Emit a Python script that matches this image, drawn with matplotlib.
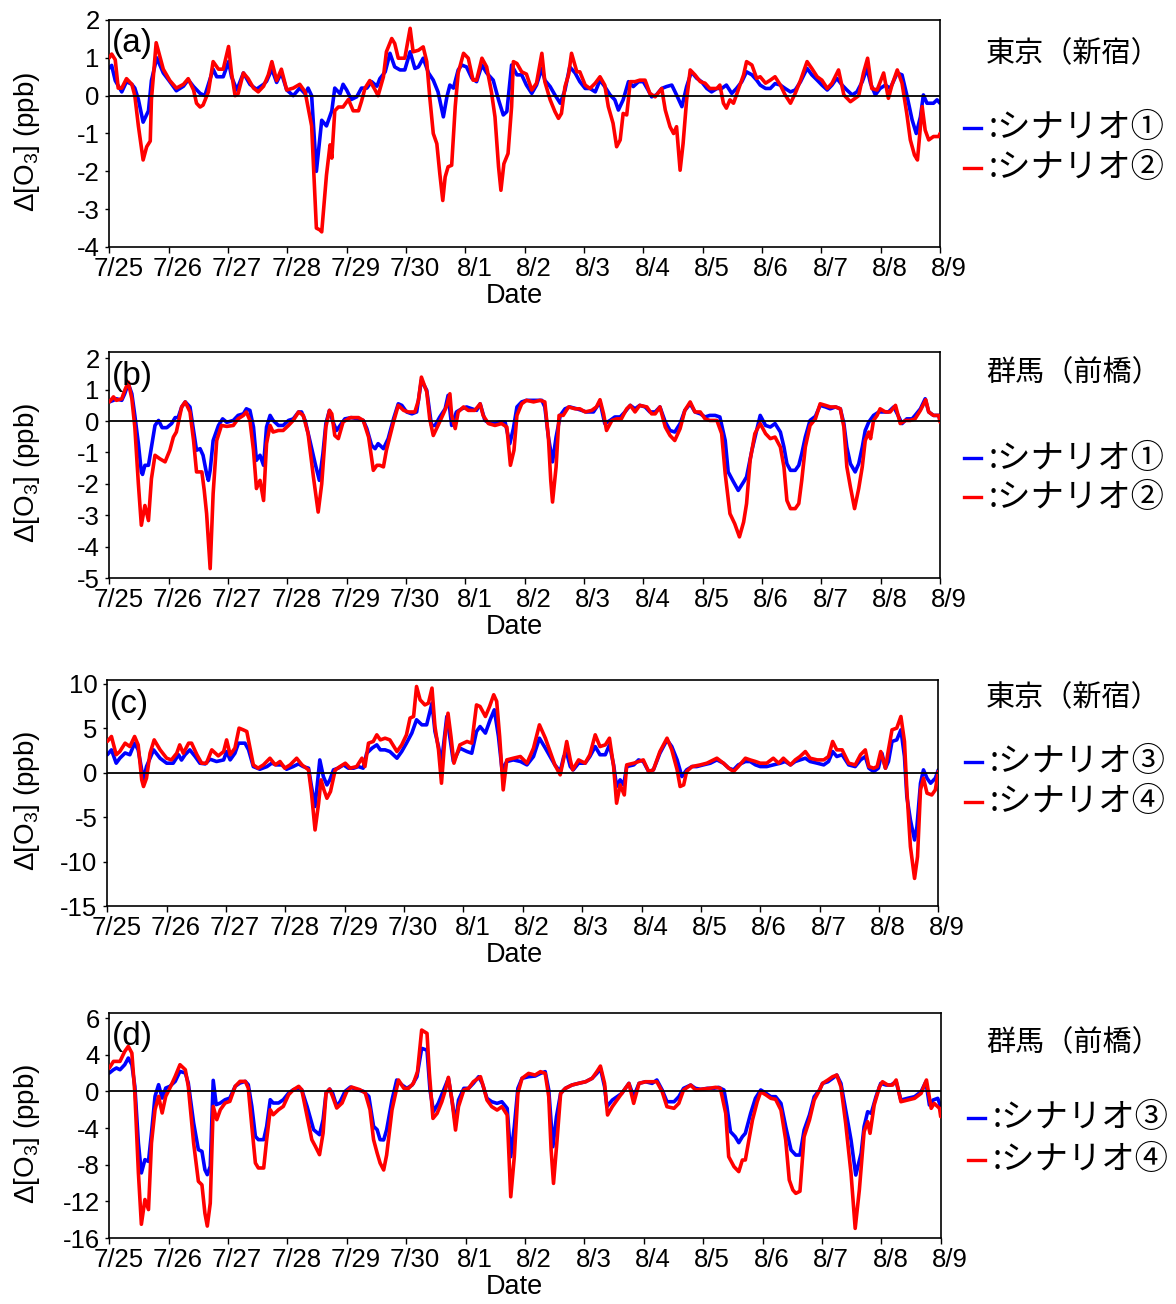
import matplotlib
matplotlib.use("Agg")
import matplotlib.pyplot as plt
from matplotlib.lines import Line2D
from matplotlib.transforms import ScaledTranslation
import numpy as np

plt.rcParams['font.family'] = ['Liberation Sans', 'Noto Sans CJK JP', 'DejaVu Sans']
plt.rcParams['mathtext.fontset'] = 'custom'
plt.rcParams['mathtext.rm'] = 'Liberation Sans'
plt.rcParams['mathtext.it'] = 'Liberation Sans'

# ---------------- data (day offset from 7/25, ΔO3 ppb) ----------------
date_labels = ["7/25", "7/26", "7/27", "7/28", "7/29", "7/30", "8/1", "8/2",
               "8/3", "8/4", "8/5", "8/6", "8/7", "8/8", "8/9"]

a_s1 = [(0,0.73),(0.04,0.8),(0.10,0.4),(0.21,0.1),(0.29,0.37),(0.38,0.3),(0.43,0.2),(0.49,-0.1),(0.57,-0.7),(0.66,-0.4),(0.71,0.4),(0.80,1.0),(0.91,0.6),(1.02,0.37),(1.13,0.13),(1.25,0.25),(1.33,0.42),(1.42,0.24),(1.53,0.06),(1.61,0.0),(1.75,0.7),(1.81,0.5),(1.92,0.5),(2.01,0.9),(2.06,0.5),(2.15,0.15),(2.26,0.6),(2.37,0.3),(2.48,0.17),(2.60,0.3),(2.65,0.38),(2.74,0.7),(2.82,0.35),(2.90,0.6),(2.99,0.15),(3.10,0.0),(3.21,0.2),(3.30,0.05),(3.35,0.2),(3.41,0.0),(3.49,-2.0),(3.58,-0.65),(3.66,-0.8),(3.75,-0.4),(3.80,0.2),(3.89,0.05),(3.94,0.3),(4.00,0.15),(4.08,-0.1),(4.17,-0.03),(4.25,0.2),(4.34,0.2),(4.42,0.37),(4.51,0.25),(4.56,0.45),
        (4.65,0.63),(4.73,1.12),(4.81,0.76),(4.90,0.68),(4.98,0.68),(5.07,1.16),(5.15,0.72),(5.21,0.76),(5.29,0.99),(5.38,0.6),(5.46,0.41),(5.54,0.1),(5.63,-0.56),(5.69,-0.03),(5.74,0.28),(5.80,0.2),(5.88,0.68),(5.94,0.81),(6.02,0.76),(6.11,0.46),(6.19,0.37),(6.28,0.81),(6.36,0.6),(6.47,0.41),(6.56,-0.11),(6.64,-0.51),(6.70,-0.42),(6.78,0.81),(6.87,0.55),(6.95,0.55),(7.03,0.28),(7.12,0.06),(7.20,0.28),(7.29,0.72),(7.34,0.41),(7.43,0.24),(7.51,0.02),(7.60,-0.2),(7.68,0.15),(7.76,0.76),(7.85,0.6),(7.93,0.37),(8.02,0.19),(8.10,0.19),(8.19,0.1),(8.27,0.41),(8.35,0.24),(8.44,0.02),(8.52,-0.11),(8.58,-0.38),(8.66,-0.11),(8.75,0.37),(8.83,0.24),(8.92,0.37),(9.0,0.37),(9.08,0.15),(9.14,-0.03),(9.22,0.02),(9.31,0.19),(9.39,0.24),(9.48,0.28),(9.56,0.02),(9.65,-0.29),(9.73,0.24),(9.81,0.63),(9.90,0.46),(9.98,0.37),(10.07,0.19),(10.15,0.1),(10.24,0.19),(10.32,0.19),(10.40,0.28),(10.49,0.06),(10.57,0.19),(10.66,0.37),(10.74,0.63),(10.83,0.55),(10.91,0.41),
        (10.97,0.28),(11.06,0.19),(11.14,0.19),(11.22,0.32),(11.31,0.28),(11.39,0.19),(11.48,0.1),(11.56,0.15),(11.65,0.37),(11.76,0.72),(11.84,0.55),(11.93,0.41),(12.01,0.28),(12.10,0.15),(12.18,0.28),(12.26,0.46),(12.35,0.28),(12.43,0.15),(12.52,0.02),(12.60,0.1),(12.69,0.37),(12.77,0.72),(12.83,0.32),(12.91,0.02),(12.99,0.19),(13.08,0.28),(13.16,0.19),(13.28,0.6),(13.36,0.55),(13.44,0.02),(13.53,-0.64),(13.60,-1.0),(13.67,-0.56),(13.72,0.02),(13.78,-0.2),(13.89,-0.2),(13.95,-0.11),(14.0,-0.2)]

a_s2 = [(0,1.0),(0.04,1.1),(0.10,0.95),(0.15,0.2),(0.21,0.2),(0.29,0.45),(0.38,0.3),(0.43,0.0),(0.49,-0.8),(0.57,-1.7),(0.63,-1.35),(0.69,-1.2),(0.71,-0.1),(0.79,1.4),(0.91,0.7),(1.02,0.4),(1.13,0.2),(1.25,0.3),(1.33,0.45),(1.42,0.15),(1.47,-0.2),(1.53,-0.3),(1.58,-0.25),(1.67,0.1),(1.75,0.9),(1.84,0.7),(1.92,0.7),(2.01,1.3),(2.06,0.6),(2.12,0.0),(2.17,0.05),(2.26,0.6),(2.34,0.45),(2.43,0.2),(2.51,0.1),(2.60,0.25),(2.68,0.55),(2.74,0.9),(2.82,0.4),(2.90,0.7),(2.99,0.15),(3.10,0.2),(3.21,0.3),(3.30,0.1),(3.41,-0.8),(3.49,-3.5),(3.55,-3.55),(3.58,-3.6),(3.66,-2.1),(3.72,-1.3),(3.75,-1.65),(3.80,-0.4),(3.86,-0.3),(3.94,-0.3),(4.03,-0.1),(4.11,-0.4),(4.20,-0.4),(4.25,-0.15),(4.31,0.2),(4.39,0.4),(4.48,0.15),(4.53,0.0),
        (4.62,0.5),(4.67,1.16),(4.76,1.51),(4.81,1.38),(4.87,0.99),(4.98,0.99),(5.07,1.78),(5.12,1.16),(5.21,1.2),(5.29,1.29),(5.35,0.9),(5.40,-0.03),(5.46,-1.0),(5.52,-1.27),(5.57,-2.06),(5.62,-2.77),(5.66,-2.15),(5.71,-1.88),(5.77,-1.84),(5.83,-0.29),(5.88,0.6),(5.97,1.12),(6.05,0.99),(6.13,0.41),(6.19,0.41),(6.28,0.99),(6.36,0.76),(6.44,0.1),(6.50,-0.56),(6.56,-1.88),(6.60,-2.5),(6.65,-1.8),(6.72,-1.53),(6.78,-0.29),(6.81,0.9),(6.87,0.85),(6.95,0.63),(7.03,0.57),(7.12,0.15),(7.20,0.33),(7.29,1.12),(7.34,0.37),(7.43,-0.11),(7.51,-0.42),(7.57,-0.6),(7.62,-0.47),(7.68,0.24),(7.74,0.55),(7.79,1.12),(7.88,0.63),(7.93,0.63),(8.02,0.28),(8.10,0.19),(8.19,0.33),(8.27,0.5),(8.35,0.28),(8.41,-0.29),(8.49,-0.73),(8.55,-1.35),(8.61,-1.17),(8.66,-0.47),(8.72,-0.51),(8.78,0.37),(8.86,0.37),(8.94,0.41),(9.03,0.41),(9.11,0.06),(9.20,-0.03),(9.31,0.19),(9.37,-0.38),(9.45,-0.82),(9.51,-1.0),(9.56,-0.82),(9.62,-1.97),(9.67,-1.27),(9.73,-0.11),(9.79,0.68),(9.87,0.55),(9.96,0.37),(10.04,0.33),(10.12,0.19),(10.24,0.19),(10.29,0.28),(10.35,-0.2),(10.40,-0.33),(10.46,-0.11),(10.52,-0.2),(10.60,0.15),(10.69,0.55),(10.74,0.9),(10.83,0.81),(10.91,0.46),
        (10.97,0.5),(11.06,0.33),(11.14,0.41),(11.22,0.5),(11.31,0.28),(11.39,0.02),(11.48,-0.2),(11.56,0.06),(11.65,0.41),(11.76,0.9),(11.84,0.72),(11.93,0.5),(12.01,0.41),(12.10,0.19),(12.18,0.33),(12.29,0.68),(12.38,0.02),(12.49,-0.16),(12.57,-0.07),(12.63,0.0),(12.71,0.6),(12.78,0.99),(12.85,0.19),(12.94,0.15),(13.05,0.6),(13.13,-0.07),(13.19,0.28),(13.28,0.68),(13.36,0.33),(13.44,-0.47),(13.50,-1.17),(13.57,-1.57),(13.62,-1.7),(13.70,-0.29),(13.75,-0.91),(13.81,-1.17),(13.89,-1.08),(13.98,-1.08),(14.0,-1.0)]

b_s1 = [(0,0.61),(0.07,0.66),(0.12,0.71),(0.21,0.66),(0.26,0.87),(0.32,1.19),(0.38,0.87),(0.43,0.18),(0.49,-0.72),(0.54,-1.62),(0.56,-1.7),(0.60,-1.41),(0.66,-1.41),(0.71,-0.83),(0.77,-0.14),(0.83,0.02),(0.89,-0.21),(0.97,-0.21),(1.05,-0.08),(1.11,0.11),(1.16,0.11),(1.22,0.45),(1.28,0.61),(1.36,0.45),(1.42,-0.3),(1.47,-0.93),(1.53,-0.88),(1.58,-1.09),(1.64,-1.68),(1.67,-1.89),(1.70,-1.57),(1.75,-0.62),(1.84,-0.14),(1.91,0.07),(1.98,-0.04),(2.09,0.02),(2.17,0.18),(2.26,0.23),(2.31,0.39),(2.37,0.34),(2.43,-0.19),(2.48,-1.25),(2.54,-1.09),(2.60,-1.41),(2.65,-0.19),(2.71,0.18),(2.76,0.02),(2.85,-0.14),(2.93,-0.14),(3.02,0.02),(3.10,0.07),(3.19,0.29),(3.24,0.29),(3.30,0.02),(3.38,-0.62),(3.47,-1.36),(3.54,-1.89),(3.60,-1.04),(3.65,-0.08),(3.71,0.34),(3.76,0.02),(3.83,-0.3),(3.89,-0.14),(3.97,0.07),(4.08,0.11),(4.20,0.07),(4.28,0.02),(4.34,-0.24),(4.42,-0.77),(4.48,-0.88),(4.53,-0.72),(4.56,-0.77),
        (4.62,-0.88),(4.70,-0.56),(4.79,0.07),(4.87,0.55),(4.93,0.5),(5.01,0.29),(5.10,0.23),(5.18,0.29),(5.26,1.3),(5.35,0.98),(5.43,-0.14),(5.49,-0.14),(5.57,0.13),(5.66,0.39),(5.71,0.82),(5.77,-0.14),(5.85,0.29),(5.94,0.39),(6.02,0.45),(6.11,0.39),(6.19,0.34),(6.25,0.55),(6.33,0.02),(6.42,-0.08),(6.50,-0.08),(6.58,-0.03),(6.67,-0.03),(6.75,-0.72),(6.81,-0.24),(6.87,0.45),(6.95,0.61),(7.03,0.66),(7.12,0.66),(7.20,0.66),(7.29,0.66),(7.34,0.45),(7.40,-0.51),(7.47,-1.3),(7.53,-0.51),(7.60,0.18),(7.68,0.39),(7.76,0.45),(7.88,0.39),(7.96,0.34),(8.04,0.29),(8.16,0.29),(8.27,0.61),(8.35,-0.08),(8.44,0.02),(8.52,0.13),(8.61,0.13),(8.69,0.29),(8.78,0.5),(8.86,0.39),(8.94,0.5),(9.03,0.45),(9.11,0.29),(9.20,0.29),(9.28,0.45),(9.37,-0.03),(9.45,-0.3),(9.53,-0.35),(9.62,-0.08),(9.70,0.34),(9.79,0.55),(9.87,0.29),(9.96,0.23),(10.04,0.13),(10.12,0.18),(10.21,0.18),(10.29,0.13),(10.38,-0.62),(10.43,-1.62),(10.52,-1.94),(10.60,-2.21),(10.69,-1.94),(10.74,-1.78),(10.83,-0.93),(10.91,-0.3),
        (10.97,0.18),(11.06,-0.14),(11.14,-0.19),(11.22,-0.08),(11.31,-0.35),(11.37,-0.83),(11.42,-1.36),(11.48,-1.57),(11.56,-1.57),(11.62,-1.41),(11.67,-1.04),(11.73,-0.51),(11.81,0.02),(11.90,0.15),(11.98,0.5),(12.07,0.45),(12.15,0.39),(12.24,0.45),(12.32,0.39),(12.38,-0.08),(12.43,-0.83),(12.49,-1.36),(12.57,-1.62),(12.63,-1.36),(12.69,-0.83),(12.74,-0.3),(12.80,-0.03),(12.88,0.18),(12.97,0.29),(13.05,0.29),(13.13,0.29),(13.22,0.45),(13.28,0.23),(13.36,-0.08),(13.44,0.07),(13.53,0.07),(13.58,0.18),(13.67,0.39),(13.75,0.71),(13.81,0.29),(13.89,0.18),(13.98,0.18),(14.0,0.02)]

b_s2 = [(0,0.61),(0.07,0.77),(0.12,0.66),(0.21,0.71),(0.26,0.98),(0.32,1.24),(0.38,0.71),(0.43,-0.19),(0.49,-2.0),(0.54,-3.32),(0.60,-2.69),(0.66,-3.17),(0.71,-1.84),(0.77,-1.09),(0.85,-1.2),(0.94,-1.3),(1.02,-0.93),(1.08,-0.51),(1.13,-0.35),(1.22,0.45),(1.28,0.61),(1.36,0.29),(1.42,-0.62),(1.47,-1.62),(1.56,-1.62),(1.60,-2.21),(1.64,-2.95),(1.70,-4.7),(1.75,-2.31),(1.81,-0.62),(1.89,-0.14),(1.98,-0.17),(2.09,-0.14),(2.17,0.07),(2.26,0.18),(2.31,0.29),(2.37,0.02),(2.43,-0.93),(2.48,-2.15),(2.54,-1.89),(2.60,-2.53),(2.65,-0.72),(2.71,-0.14),(2.76,-0.35),(2.85,-0.3),(2.93,-0.3),(3.02,-0.14),(3.10,0.02),(3.19,0.29),(3.27,0.18),(3.35,-0.4),(3.44,-1.78),(3.52,-2.9),(3.58,-2.0),(3.65,-0.19),(3.71,0.34),(3.75,0.23),(3.80,-0.46),(3.86,-0.56),(3.94,-0.03),(4.06,0.11),(4.20,0.11),(4.28,0.02),(4.37,-0.51),(4.45,-1.57),(4.51,-1.41),(4.56,-1.41),
        (4.62,-1.46),(4.67,-0.93),(4.79,-0.03),(4.87,0.5),(4.96,0.34),(5.04,0.29),(5.15,0.29),(5.21,0.66),(5.26,1.4),(5.35,0.93),(5.40,0.07),(5.46,-0.46),(5.54,-0.14),(5.63,0.23),(5.69,0.5),(5.74,0.87),(5.77,0.18),(5.83,-0.24),(5.88,0.29),(5.97,0.45),(6.05,0.34),(6.16,0.34),(6.25,0.55),(6.30,0.18),(6.39,-0.08),(6.50,-0.14),(6.61,-0.08),(6.70,-0.19),(6.76,-1.41),(6.82,-0.93),(6.87,0.18),(6.95,0.55),(7.03,0.66),(7.15,0.61),(7.26,0.66),(7.34,0.61),(7.40,-0.51),(7.44,-1.89),(7.47,-2.58),(7.53,-1.46),(7.58,0.18),(7.65,0.18),(7.74,0.45),(7.85,0.39),(7.93,0.39),(8.02,0.29),(8.13,0.34),(8.21,0.45),(8.27,0.68),(8.33,0.23),(8.38,-0.3),(8.47,0.02),(8.55,0.07),(8.63,0.07),(8.72,0.39),(8.78,0.5),(8.86,0.29),(8.94,0.5),(9.06,0.45),(9.14,0.23),(9.20,0.23),(9.28,0.45),(9.37,-0.19),(9.45,-0.46),(9.53,-0.62),(9.62,-0.24),(9.70,0.34),(9.79,0.61),(9.87,0.29),(9.96,0.29),(10.04,0.07),(10.12,0.02),(10.24,0.02),(10.32,-0.4),(10.38,-1.68),(10.46,-2.95),(10.54,-3.27),(10.62,-3.69),(10.69,-3.22),(10.74,-2.63),(10.80,-1.25),(10.88,-0.4),
        (10.97,-0.08),(11.06,-0.4),(11.14,-0.56),(11.22,-0.51),(11.31,-0.83),(11.37,-1.46),(11.42,-2.53),(11.48,-2.79),(11.56,-2.79),(11.62,-2.63),(11.67,-1.89),(11.73,-0.83),(11.81,-0.14),(11.90,0.07),(11.98,0.55),(12.07,0.5),(12.15,0.45),(12.24,0.45),(12.32,0.39),(12.38,-0.19),(12.43,-1.46),(12.49,-2.1),(12.56,-2.79),(12.63,-2.15),(12.69,-1.46),(12.74,-0.62),(12.80,-0.35),(12.83,-0.56),(12.88,0.02),(12.94,0.18),(12.99,0.39),(13.08,0.29),(13.16,0.29),(13.25,0.5),(13.33,-0.08),(13.42,0.02),(13.50,0.02),(13.58,0.07),(13.67,0.34),(13.76,0.68),(13.81,0.29),(13.89,0.18),(13.98,0.18),(14.0,-0.03)]

c_s3 = [(0,2.0),(0.07,2.55),(0.15,1.05),(0.21,1.6),(0.30,2.2),(0.38,2.0),(0.46,3.3),(0.52,2.55),(0.58,0.3),(0.61,-0.82),(0.66,0.67),(0.78,2.55),(0.89,1.6),(1.0,1.05),(1.11,1.05),(1.20,2.0),(1.25,1.4),(1.31,2.0),(1.39,2.55),(1.48,1.8),(1.56,1.05),(1.65,0.97),(1.73,1.5),(1.84,1.24),(1.96,1.42),(2.01,2.36),(2.07,1.42),(2.15,2.17),(2.21,3.3),(2.32,3.3),(2.38,2.55),(2.46,0.67),(2.57,0.37),(2.69,0.67),(2.77,1.05),(2.85,0.86),(2.94,0.86),(3.02,0.37),(3.13,0.67),(3.22,0.97),(3.30,0.67),(3.39,0.49),(3.44,-1.57),(3.50,-3.82),(3.58,1.42),(3.64,-0.45),(3.70,-1.39),(3.75,-0.82),(3.81,0.3),(3.89,0.49),(3.98,0.86),(4.06,0.49),(4.15,0.49),(4.23,0.67),(4.31,0.49),(4.37,2.17),(4.46,2.74),(4.54,3.11),(4.60,2.55),
        (4.68,2.55),(4.76,2.36),(4.88,1.61),(4.96,2.36),(5.04,3.3),(5.13,4.43),(5.21,5.93),(5.30,5.36),(5.38,5.36),(5.47,7.8),(5.52,4.61),(5.58,2.92),(5.63,1.05),(5.72,6.3),(5.83,1.24),(5.94,2.74),(6.06,2.36),(6.14,2.17),(6.22,4.61),(6.28,5.17),(6.37,4.43),(6.45,5.93),(6.52,7.05),(6.59,4.05),(6.65,0.3),(6.73,1.24),(6.84,1.42),(6.96,1.24),(7.07,0.86),(7.18,1.8),(7.28,3.86),(7.38,2.74),(7.46,1.8),(7.54,0.86),(7.63,0.11),(7.69,1.8),(7.74,2.17),(7.80,0.67),(7.85,0.3),(7.94,1.05),(8.05,1.05),(8.13,1.8),(8.22,2.92),(8.30,2.0),(8.39,2.0),(8.46,3.11),(8.53,0.86),(8.58,-1.57),(8.64,-0.82),(8.70,-1.39),(8.75,0.67),(8.87,0.86),(8.95,1.42),(9.03,1.24),(9.12,0.11),(9.20,0.3),(9.31,2.17),(9.43,3.67),(9.51,2.92),(9.60,1.42),(9.68,-0.45),(9.76,0.3),(9.85,0.67),(9.93,0.67),(10.04,0.86),(10.16,1.05),(10.27,1.42),(10.38,1.05),(10.47,0.49),(10.55,0.3),(10.63,0.86),(10.75,1.24),(10.83,1.24),(10.92,0.86),
        (11.0,0.67),(11.11,0.67),(11.22,0.86),(11.34,1.05),(11.42,1.24),(11.51,0.86),(11.59,1.24),(11.67,1.42),(11.76,1.61),(11.84,1.24),(11.96,1.05),(12.07,0.86),(12.15,1.24),(12.22,2.36),(12.29,1.8),(12.38,2.0),(12.49,0.86),(12.60,0.67),(12.69,1.42),(12.77,1.8),(12.83,0.49),(12.91,0.11),(12.99,0.49),(13.05,2.17),(13.11,0.49),(13.16,1.24),(13.22,3.49),(13.30,3.67),(13.37,4.8),(13.43,1.8),(13.47,-2.7),(13.53,-5.33),(13.60,-7.58),(13.64,-6.08),(13.70,-1.2),(13.75,0.3),(13.81,-0.64),(13.87,-1.2),(13.95,-0.64),(14.0,0.3)]

c_s4 = [(0,3.49),(0.07,4.05),(0.15,2.0),(0.21,2.36),(0.30,3.3),(0.38,2.92),(0.46,4.05),(0.52,3.11),(0.58,-0.82),(0.61,-1.57),(0.66,-0.64),(0.72,2.17),(0.79,3.67),(0.89,2.55),(1.0,1.61),(1.08,1.42),(1.17,2.17),(1.22,3.11),(1.28,2.17),(1.37,3.3),(1.42,3.3),(1.51,2.0),(1.59,1.05),(1.67,1.05),(1.76,2.55),(1.87,1.87),(1.96,2.36),(2.01,3.67),(2.07,2.0),(2.15,2.74),(2.22,4.99),(2.29,4.8),(2.35,4.61),(2.40,2.92),(2.46,0.86),(2.54,0.49),(2.63,0.86),(2.74,1.61),(2.83,0.86),(2.91,1.24),(2.99,0.49),(3.08,0.86),(3.19,1.61),(3.28,0.86),(3.39,0.3),(3.44,-2.32),(3.50,-6.45),(3.56,-3.45),(3.60,-0.82),(3.65,-1.95),(3.70,-2.89),(3.76,-2.14),(3.84,0.3),(3.92,0.67),(4.01,1.05),(4.09,0.49),(4.20,0.67),(4.29,1.61),(4.34,0.67),(4.40,3.3),(4.48,3.49),(4.54,4.24),(4.60,3.67),
        (4.68,3.86),(4.76,3.67),(4.88,2.36),(4.96,3.11),(5.04,4.24),(5.10,6.12),(5.16,6.3),(5.21,9.67),(5.27,8.17),(5.35,7.6),(5.41,7.8),(5.47,9.49),(5.52,5.17),(5.58,2.55),(5.63,-1.2),(5.69,4.05),(5.74,6.67),(5.79,4.05),(5.84,1.05),(5.94,3.11),(6.06,3.49),(6.14,3.3),(6.22,7.6),(6.28,7.42),(6.37,6.3),(6.44,7.42),(6.51,8.74),(6.56,8.0),(6.61,4.05),(6.67,-1.95),(6.73,1.42),(6.84,1.61),(6.96,1.8),(7.07,1.05),(7.18,2.74),(7.28,5.36),(7.38,3.86),(7.46,2.36),(7.54,0.86),(7.63,-0.26),(7.69,1.61),(7.74,3.49),(7.80,1.42),(7.84,0.3),(7.94,1.42),(8.05,1.05),(8.13,2.0),(8.22,4.24),(8.30,2.92),(8.39,3.11),(8.46,3.86),(8.53,0.67),(8.58,-3.45),(8.64,-1.39),(8.71,-2.52),(8.75,0.86),(8.87,1.05),(8.95,1.24),(9.03,1.42),(9.12,0.11),(9.20,0.3),(9.31,2.36),(9.43,3.86),(9.51,2.55),(9.60,0.3),(9.65,-1.57),(9.71,-1.39),(9.76,0.11),(9.85,0.67),(9.99,0.86),(10.10,1.05),(10.27,1.61),(10.38,1.05),(10.47,0.49),(10.55,0.11),(10.63,0.67),(10.75,1.61),(10.83,1.42),(10.92,1.24),
        (11.0,1.05),(11.11,1.05),(11.22,1.61),(11.31,1.05),(11.39,1.61),(11.51,0.86),(11.59,1.42),(11.67,1.8),(11.76,2.36),(11.84,1.61),(11.96,1.42),(12.07,1.42),(12.15,1.8),(12.22,3.49),(12.29,2.55),(12.38,2.55),(12.49,1.05),(12.60,0.86),(12.69,2.0),(12.77,2.55),(12.83,0.67),(12.91,0.49),(12.97,0.67),(13.03,2.36),(13.11,0.49),(13.16,2.55),(13.22,4.8),(13.30,4.99),(13.37,6.3),(13.43,3.49),(13.47,-1.95),(13.53,-8.33),(13.60,-11.9),(13.65,-9.46),(13.70,-1.95),(13.75,-0.64),(13.81,-2.32),(13.89,-2.52),(13.95,-1.95),(14.0,0.11)]

d_s3 = [(0,2.0),(0.07,2.36),(0.12,2.55),(0.18,2.36),(0.26,2.91),(0.32,3.64),(0.38,2.91),(0.43,0.55),(0.49,-5.64),(0.54,-8.9),(0.60,-7.45),(0.66,-7.64),(0.71,-4.55),(0.77,-0.55),(0.83,0.73),(0.89,-0.73),(0.95,0.36),(1.02,0.55),(1.11,1.09),(1.19,2.18),(1.28,2.0),(1.33,0.91),(1.42,-3.45),(1.50,-6.36),(1.56,-6.55),(1.61,-8.55),(1.65,-9.09),(1.70,-8.18),(1.74,-0.91),(1.75,1.2),(1.80,-1.45),(1.87,-1.27),(1.95,-0.91),(2.03,-0.73),(2.12,0.55),(2.20,0.91),(2.29,1.09),(2.34,0.73),(2.40,-1.64),(2.46,-4.91),(2.51,-5.27),(2.60,-5.27),(2.65,-3.82),(2.71,-0.91),(2.76,-1.27),(2.85,-1.27),(2.93,-0.91),(3.02,-0.18),(3.10,0.18),(3.19,0.36),(3.24,0.18),(3.33,-1.64),(3.44,-4.18),(3.54,-4.73),(3.60,-3.09),(3.65,-0.18),(3.71,0.25),(3.76,-0.18),(3.83,-1.64),(3.89,-1.09),(3.97,0.0),(4.06,0.47),(4.17,0.18),(4.28,0.0),(4.37,-0.55),(4.45,-3.82),(4.51,-4.18),(4.56,-5.27),
        (4.62,-5.3),(4.67,-4.2),(4.76,-0.95),(4.84,1.24),(4.93,0.69),(5.01,0.33),(5.10,0.69),(5.18,1.6),(5.26,4.69),(5.35,4.5),(5.40,0.15),(5.46,-2.2),(5.54,-1.3),(5.63,0.15),(5.71,1.42),(5.77,-0.95),(5.83,-3.5),(5.88,-0.95),(5.97,0.33),(6.05,0.33),(6.13,0.87),(6.22,1.6),(6.28,0.87),(6.36,-0.76),(6.44,-1.13),(6.53,-1.31),(6.61,-1.13),(6.70,-1.85),(6.76,-7.13),(6.82,-3.85),(6.88,0.33),(6.95,1.42),(7.06,1.6),(7.17,1.67),(7.26,1.96),(7.34,2.15),(7.40,0.15),(7.47,-6.04),(7.53,-2.76),(7.60,-0.22),(7.68,0.33),(7.79,0.69),(7.90,0.87),(8.02,1.05),(8.13,1.42),(8.21,1.96),(8.27,2.51),(8.34,0.51),(8.38,-1.67),(8.47,-0.95),(8.55,-0.58),(8.63,-0.22),(8.75,0.87),(8.83,-0.58),(8.92,0.87),(9.03,1.05),(9.14,0.87),(9.22,1.24),(9.31,0.15),(9.39,-1.13),(9.51,-1.13),(9.59,-0.58),(9.67,0.33),(9.79,0.69),(9.87,0.33),(9.96,0.22),(10.07,0.33),(10.18,0.33),(10.26,0.44),(10.35,0.15),(10.40,-1.67),(10.46,-4.4),(10.54,-4.95),(10.60,-5.6),(10.66,-4.95),(10.71,-4.58),(10.80,-2.4),(10.88,-0.76),
        (10.97,0.15),(11.06,-0.22),(11.14,-0.58),(11.22,-0.58),(11.31,-1.31),(11.39,-3.85),(11.48,-6.4),(11.56,-6.95),(11.63,-6.95),(11.70,-4.22),(11.79,-2.58),(11.87,-0.58),(11.96,0.15),(12.01,0.87),(12.10,1.05),(12.18,1.42),(12.25,1.78),(12.32,0.87),(12.40,-2.04),(12.49,-5.31),(12.57,-9.13),(12.66,-6.76),(12.71,-3.85),(12.77,-2.22),(12.83,-2.4),(12.91,-0.58),(12.99,0.87),(13.08,0.69),(13.16,0.69),(13.25,1.05),(13.33,-0.95),(13.44,-0.76),(13.56,-0.58),(13.67,-0.04),(13.75,1.05),(13.81,-1.49),(13.87,-0.95),(13.95,-0.76),(14.0,-1.67)]

d_s4 = [(0,2.55),(0.07,3.27),(0.12,3.27),(0.18,3.27),(0.26,4.36),(0.32,4.91),(0.38,4.18),(0.43,-0.18),(0.49,-8.9),(0.54,-14.5),(0.60,-11.8),(0.66,-12.9),(0.71,-5.64),(0.77,-2.0),(0.83,-0.55),(0.89,-2.36),(0.95,-0.55),(1.02,0.36),(1.11,1.64),(1.19,2.91),(1.28,2.36),(1.33,0.55),(1.42,-5.64),(1.50,-9.82),(1.56,-10.2),(1.61,-13.3),(1.65,-14.7),(1.70,-12.2),(1.75,-1.64),(1.81,-3.09),(1.87,-2.0),(1.95,-1.27),(2.03,-1.09),(2.12,0.55),(2.20,1.09),(2.29,1.09),(2.34,0.36),(2.40,-3.82),(2.46,-7.82),(2.51,-8.36),(2.60,-8.36),(2.65,-5.27),(2.71,-2.0),(2.76,-2.55),(2.85,-2.0),(2.93,-1.64),(3.02,-0.36),(3.10,0.18),(3.19,0.55),(3.24,0.18),(3.33,-2.73),(3.41,-5.27),(3.47,-6.0),(3.54,-6.91),(3.60,-4.55),(3.65,-0.18),(3.71,0.25),(3.76,-0.55),(3.83,-1.82),(3.92,-1.27),(4.0,0.0),(4.08,0.47),(4.22,0.18),(4.31,-0.18),(4.39,-2.0),(4.45,-5.27),(4.51,-6.73),(4.56,-7.82),
        (4.62,-8.58),(4.67,-6.95),(4.76,-2.04),(4.87,1.24),(4.96,0.33),(5.04,0.33),(5.12,0.87),(5.19,2.15),(5.26,6.69),(5.35,6.33),(5.39,1.96),(5.45,-2.95),(5.52,-2.4),(5.60,-1.13),(5.66,0.15),(5.71,1.53),(5.77,-0.95),(5.83,-4.22),(5.88,-1.67),(5.97,0.15),(6.05,0.33),(6.13,1.05),(6.25,1.6),(6.30,0.51),(6.36,-0.95),(6.44,-1.67),(6.53,-2.04),(6.61,-1.67),(6.70,-2.58),(6.76,-11.5),(6.82,-7.13),(6.88,-0.22),(6.95,1.42),(7.06,1.96),(7.17,1.78),(7.26,2.15),(7.34,1.96),(7.40,-0.58),(7.44,-6.4),(7.48,-10.04),(7.54,-5.31),(7.60,-0.22),(7.68,0.33),(7.79,0.69),(7.90,0.87),(8.02,1.05),(8.13,1.42),(8.21,2.15),(8.27,2.76),(8.34,0.87),(8.39,-2.58),(8.47,-1.67),(8.55,-0.95),(8.63,-0.22),(8.75,0.87),(8.83,-1.31),(8.92,0.87),(9.03,1.05),(9.14,1.05),(9.22,1.05),(9.31,-0.04),(9.39,-1.67),(9.51,-1.85),(9.59,-1.31),(9.67,0.15),(9.79,0.69),(9.87,0.15),(9.96,0.22),(10.10,0.33),(10.21,0.44),(10.29,0.33),(10.38,-2.4),(10.43,-7.13),(10.52,-8.22),(10.60,-8.76),(10.66,-7.49),(10.71,-7.49),(10.77,-5.31),(10.83,-3.13),(10.91,-1.13),
        (10.97,-0.04),(11.06,-0.4),(11.14,-0.76),(11.22,-0.87),(11.31,-2.04),(11.39,-5.31),(11.45,-9.67),(11.51,-10.76),(11.56,-11.13),(11.63,-10.9),(11.70,-4.95),(11.79,-3.13),(11.87,-0.95),(11.96,0.15),(12.01,0.87),(12.10,1.24),(12.18,1.6),(12.25,1.78),(12.32,0.51),(12.40,-3.49),(12.49,-8.95),(12.56,-14.95),(12.63,-10.76),(12.71,-4.4),(12.77,-3.31),(12.81,-4.58),(12.88,-1.49),(12.97,0.51),(13.02,1.05),(13.11,0.69),(13.19,0.69),(13.25,1.24),(13.33,-1.13),(13.44,-0.95),(13.56,-0.76),(13.67,-0.22),(13.76,1.24),(13.84,-1.85),(13.89,-1.31),(13.98,-1.85),(14.0,-2.76)]

panel_letters = ["(a)", "(b)", "(c)", "(d)"]
site_names = ["東京（新宿）", "群馬（前橋）", "東京（新宿）", "群馬（前橋）"]
legend_names = [(":シナリオ①", ":シナリオ②"), (":シナリオ①", ":シナリオ②"),
                (":シナリオ③", ":シナリオ④"), (":シナリオ③", ":シナリオ④")]
ylims = [(-4, 2), (-5, 2.2), (-15, 10.4), (-16, 8.55)]
yticks = [[-4, -3, -2, -1, 0, 1, 2], [-5, -4, -3, -2, -1, 0, 1, 2],
          [-15, -10, -5, 0, 5, 10], [-16, -12, -8, -4, 0, 4, 8]]
ytick_labels = [None, None, None, ["-16", "-12", "-8", "-4", "0", "4", "6"]]

# ---------------- layout (pixels) ----------------
W, H = 1176, 1304
fig = plt.figure(figsize=(W / 100, H / 100), dpi=100)

def fx(x):
    return x / W

def fy(y):
    return 1 - y / H

boxes = [(109.3, 940.0, 20, 247), (109.3, 940.0, 352, 578),
         (107.3, 938.3, 680, 906), (109.3, 940.7, 1013, 1238)]
legend_y = [(54, 128, 168), (373, 458, 497), (698, 762, 802), (1043, 1118, 1160)]
legend_dash_x = [(964, 981), (964, 981), (965, 982), (968, 985)]

series = [(a_s1, a_s2), (b_s1, b_s2), (c_s3, c_s4), (d_s3, d_s4)]
BLUE = "#0000FF"
RED = "#FF0000"
CJK = ['Noto Sans CJK JP', 'DejaVu Sans']

for i in range(4):
    l, r, t, b = boxes[i]
    ax = fig.add_axes([fx(l), fy(b), (r - l) / W, (b - t) / H])
    s_blue, s_red = series[i]
    tb, vb = zip(*s_blue)
    tr, vr = zip(*s_red)
    ax.plot(tb, vb, color=BLUE, lw=2.6, solid_joinstyle='round', solid_capstyle='round', zorder=2)
    ax.plot(tr, vr, color=RED, lw=2.6, solid_joinstyle='round', solid_capstyle='round', zorder=3)
    ax.axhline(0, color='black', lw=1.3, zorder=4)
    ax.set_xlim(0, 14)
    ax.set_ylim(*ylims[i])
    ax.set_xticks(range(15))
    ax.set_xticklabels(date_labels)
    ax.set_yticks(yticks[i])
    if ytick_labels[i] is not None:
        ax.set_yticklabels(ytick_labels[i])
    else:
        ax.set_yticklabels([str(v) for v in yticks[i]])
    ax.tick_params(axis='x', direction='out', length=4, width=1.0, labelsize=18.5, pad=3.5)
    ax.tick_params(axis='y', direction='out', length=3, width=1.0, labelsize=18.5, pad=4)
    off = ScaledTranslation(9 / 100, 0, fig.dpi_scale_trans)
    for lab in ax.get_xticklabels():
        lab.set_transform(lab.get_transform() + off)
    for sp in ax.spines.values():
        sp.set_linewidth(1.2)
        sp.set_color('black')

    # panel letter
    ax.text(0.003, 1 - 24 / (b - t), panel_letters[i], transform=ax.transAxes,
            fontsize=24, ha='left', va='center', zorder=5)
    # axis labels
    fig.text(fx(514), fy(b + 49), "Date", fontsize=19.5, ha='center', va='center')
    fig.text(fx(27), fy((t + b) / 2 + 8), r"Δ[O$_3$] (ppb)", fontsize=20,
             rotation=90, ha='center', va='center')

    # right-hand annotations: site name and legend
    ty, y1, y2 = legend_y[i]
    fig.text(fx(986), fy(ty), site_names[i], fontsize=21, ha='left', va='center', family=CJK)
    x0, x1 = legend_dash_x[i]
    for yy, col, name in ((y1, BLUE, legend_names[i][0]), (y2, RED, legend_names[i][1])):
        fig.add_artist(Line2D([fx(x0), fx(x1)], [fy(yy), fy(yy)], color=col, lw=2.4,
                              transform=fig.transFigure))
        fig.text(fx(x1 + 8), fy(yy), name, fontsize=24, ha='left', va='center', family=CJK)

fig.savefig("out.png", dpi=100)
